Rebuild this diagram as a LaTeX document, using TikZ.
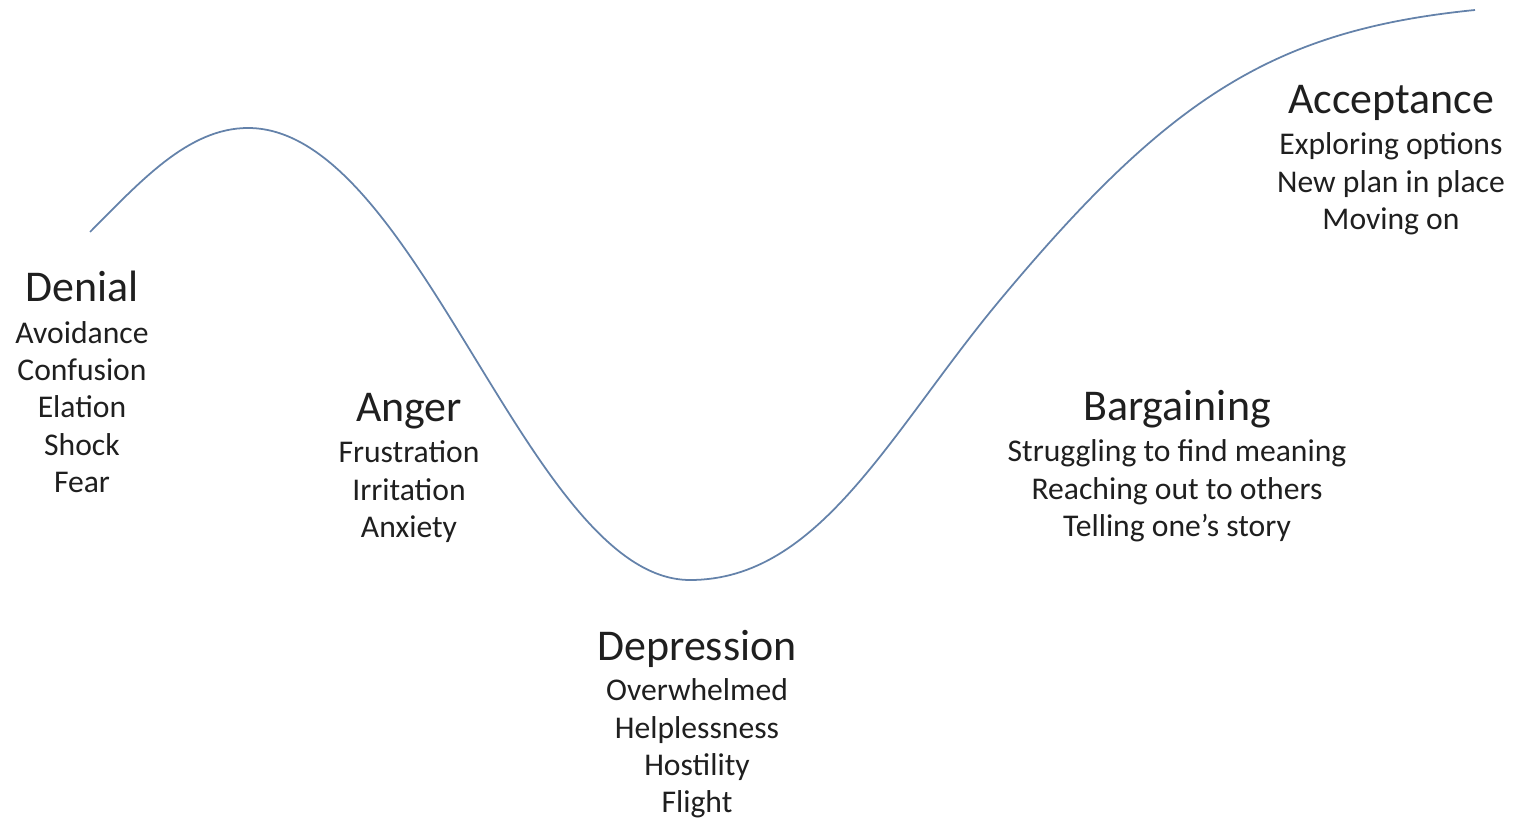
\documentclass[tikz,border=0pt]{standalone}
\usepackage{fontspec}
\setmainfont{Carlito}
\usepackage{xcolor}
\definecolor{curveblue}{RGB}{100,130,170}
\newcommand{\stagename}[1]{{\fontsize{25}{30}\selectfont #1}}
\begin{document}
\begin{tikzpicture}[x=0.02cm,y=-0.02cm,curve line/.style={curveblue,line width=1pt},stage/.style={anchor=north,align=center,inner sep=0pt,text=black!88,font=\fontsize{18}{21.26}\selectfont}]
            \useasboundingbox (0,0) rectangle (1520,820);

            % the change curve
            \coordinate (start) at (90,232);
            \coordinate (peak) at (248,128);
            \coordinate (trough) at (690,580);
            \coordinate (climb) at (1000,300);
            \coordinate (top) at (1475,10);
            \draw[curve line] (start) .. controls (140,182) and (188,128) .. (peak)
                .. controls (418,128) and (529,580) .. (trough)
                .. controls (820,580) and (890,432) .. (climb)
                .. controls (1170,96) and (1275,30) .. (top);

            % stages
            \node[stage] (denial) at (82,271) {\stagename{Denial}\\[2.2pt] Avoidance\\ Confusion\\ Elation\\ Shock\\ Fear};
            \node[stage] (anger) at (409,393) {\stagename{Anger}\\[2.2pt] Frustration\\ Irritation\\ Anxiety};
            \node[stage] (depression) at (697,630) {\stagename{Depression}\\[1.6pt] Overwhelmed\\ Helplessness\\ Hostility\\ Flight};
            \node[stage] (bargaining) at (1177,390) {\stagename{Bargaining}\\[2.2pt] Struggling to find meaning\\ Reaching out to others\\ Telling one’s story};
            \node[stage] (acceptance) at (1391,85) {\stagename{Acceptance}\\[2.2pt] Exploring options\\ New plan in place\\ Moving on};
        \end{tikzpicture}
\end{document}
